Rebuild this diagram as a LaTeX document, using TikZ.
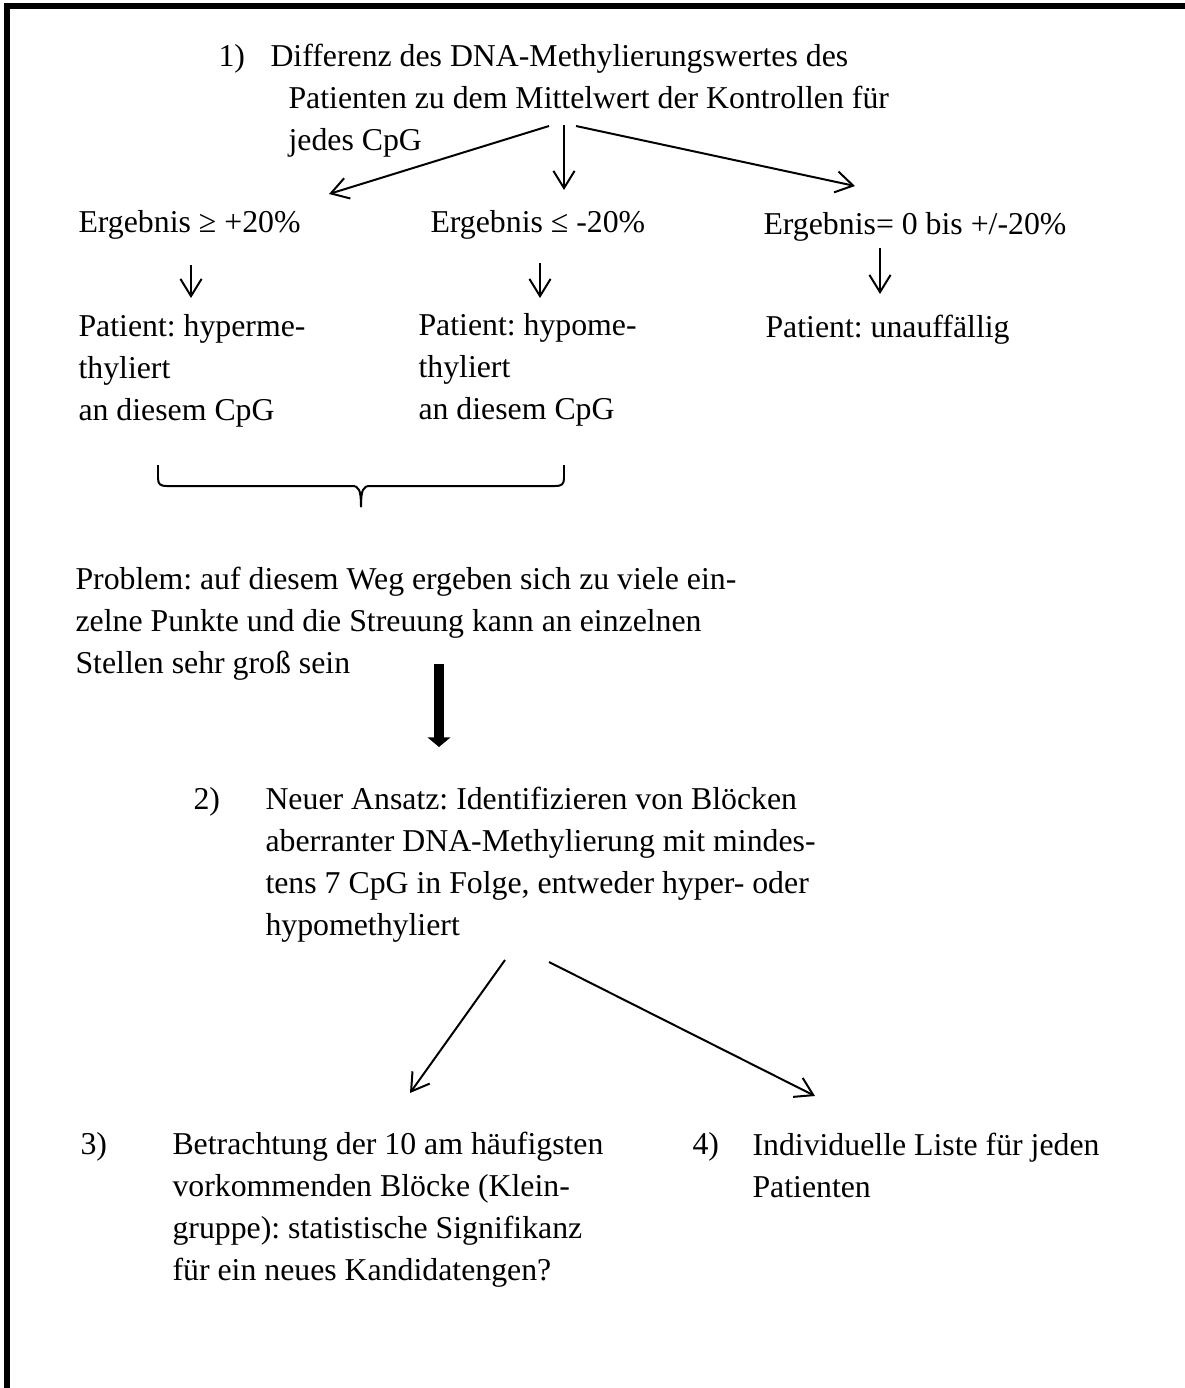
\documentclass[tikz,border=0pt]{standalone}
\usepackage{fontspec}
\setmainfont{Liberation Serif}
\usepackage{tikz}
\usetikzlibrary{arrows.meta}
\frenchspacing

\tikzset{
  txt/.style={anchor=base west, inner sep=0pt, align=left, font=\fontsize{12pt}{15.85pt}\selectfont},
  arr/.style={line width=0.75pt, -{Straight Barb[length=6.5pt,width=8pt,line width=0.75pt]}},
  bigarr/.style={line width=3.4pt, -{Triangle[length=3.6pt,width=8.4pt]}}
}

\begin{document}
\begin{tikzpicture}[x=0.3774pt, y=-0.3774pt]
\useasboundingbox (0,0) rectangle (1185,1388);
% frame
\draw[line width=2.3pt] (7,1388) -- (7,6) -- (1185,6);
% step 1 (multi-line nodes sit on the baseline of their last line)
\node[txt] (Num1) at (218,66) {1)};
\node[txt] (Step1) at (270,150) {Differenz des DNA-Methylierungswertes des\\
\hspace*{6.8pt}Patienten zu dem Mittelwert der Kontrollen für\\
\hspace*{6.8pt}jedes CpG};
\node[txt] (ResHyper) at (78,232) {Ergebnis ≥ +20\%};
\node[txt] (ResHypo) at (430,232) {Ergebnis ≤ -20\%};
\node[txt] (ResNull) at (763,234) {Ergebnis= 0 bis +/-20\%};
\node[txt] (PatHyper) at (78,420) {Patient: hyperme-\\thyliert\\an diesem CpG};
\node[txt] (PatHypo) at (418,419) {Patient: hypome-\\thyliert\\an diesem CpG};
\node[txt] (PatNull) at (765,337) {Patient: unauffällig};
\coordinate (s1) at (549,126); \coordinate (e1) at (329,194);
\coordinate (s2) at (564,125); \coordinate (e2) at (564,190);
\coordinate (s3) at (576,126); \coordinate (e3) at (855,186);
\draw[arr] (s1) -- (e1);
\draw[arr] (s2) -- (e2);
\draw[arr] (s3) -- (e3);
\coordinate (t1) at (191,265); \coordinate (u1) at (191,298);
\coordinate (t2) at (540,263); \coordinate (u2) at (540,298);
\coordinate (t3) at (880,248); \coordinate (u3) at (880,294);
\draw[arr] (t1) -- (u1);
\draw[arr] (t2) -- (u2);
\draw[arr] (t3) -- (u3);
% brace
\draw[line width=0.75pt] (158,465) -- (158,478) .. controls (158,484) and (160,486) .. (167,486)
  -- (352,486) .. controls (359,486) and (361,490) .. (361,507);
\draw[line width=0.75pt] (564,465) -- (564,478) .. controls (564,484) and (562,486) .. (555,486)
  -- (370,486) .. controls (363,486) and (361,490) .. (361,507);
\node[txt] (Problem) at (75,673) {Problem: auf diesem Weg ergeben sich zu viele ein-\\
zelne Punkte und die Streuung kann an einzelnen\\
Stellen sehr groß sein};
\coordinate (p1) at (439,664); \coordinate (p2) at (439,747);
\draw[bigarr] (p1) -- (p2);
% step 2
\node[txt] (Num2) at (193,809) {2)};
\node[txt] (Step2) at (265,935) {Neuer Ansatz: Identifizieren von Blöcken\\
aberranter DNA-Methylierung mit mindes-\\
tens 7 CpG in Folge, entweder hyper- oder\\
hypomethyliert};
\coordinate (v1) at (505,960); \coordinate (w1) at (410,1093);
\coordinate (v2) at (549,962); \coordinate (w2) at (815,1096);
\draw[arr] (v1) -- (w1);
\draw[arr] (v2) -- (w2);
% step 3 and 4
\node[txt] (Num3) at (80,1154) {3)};
\node[txt] (Step3) at (172,1280) {Betrachtung der 10 am häufigsten\\
vorkommenden Blöcke (Klein-\\
gruppe): statistische Signifikanz\\
für ein neues Kandidatengen?};
\node[txt] (Num4) at (692,1154) {4)};
\node[txt] (Step4) at (752,1197) {Individuelle Liste für jeden\\
Patienten};
\end{tikzpicture}
\end{document}
